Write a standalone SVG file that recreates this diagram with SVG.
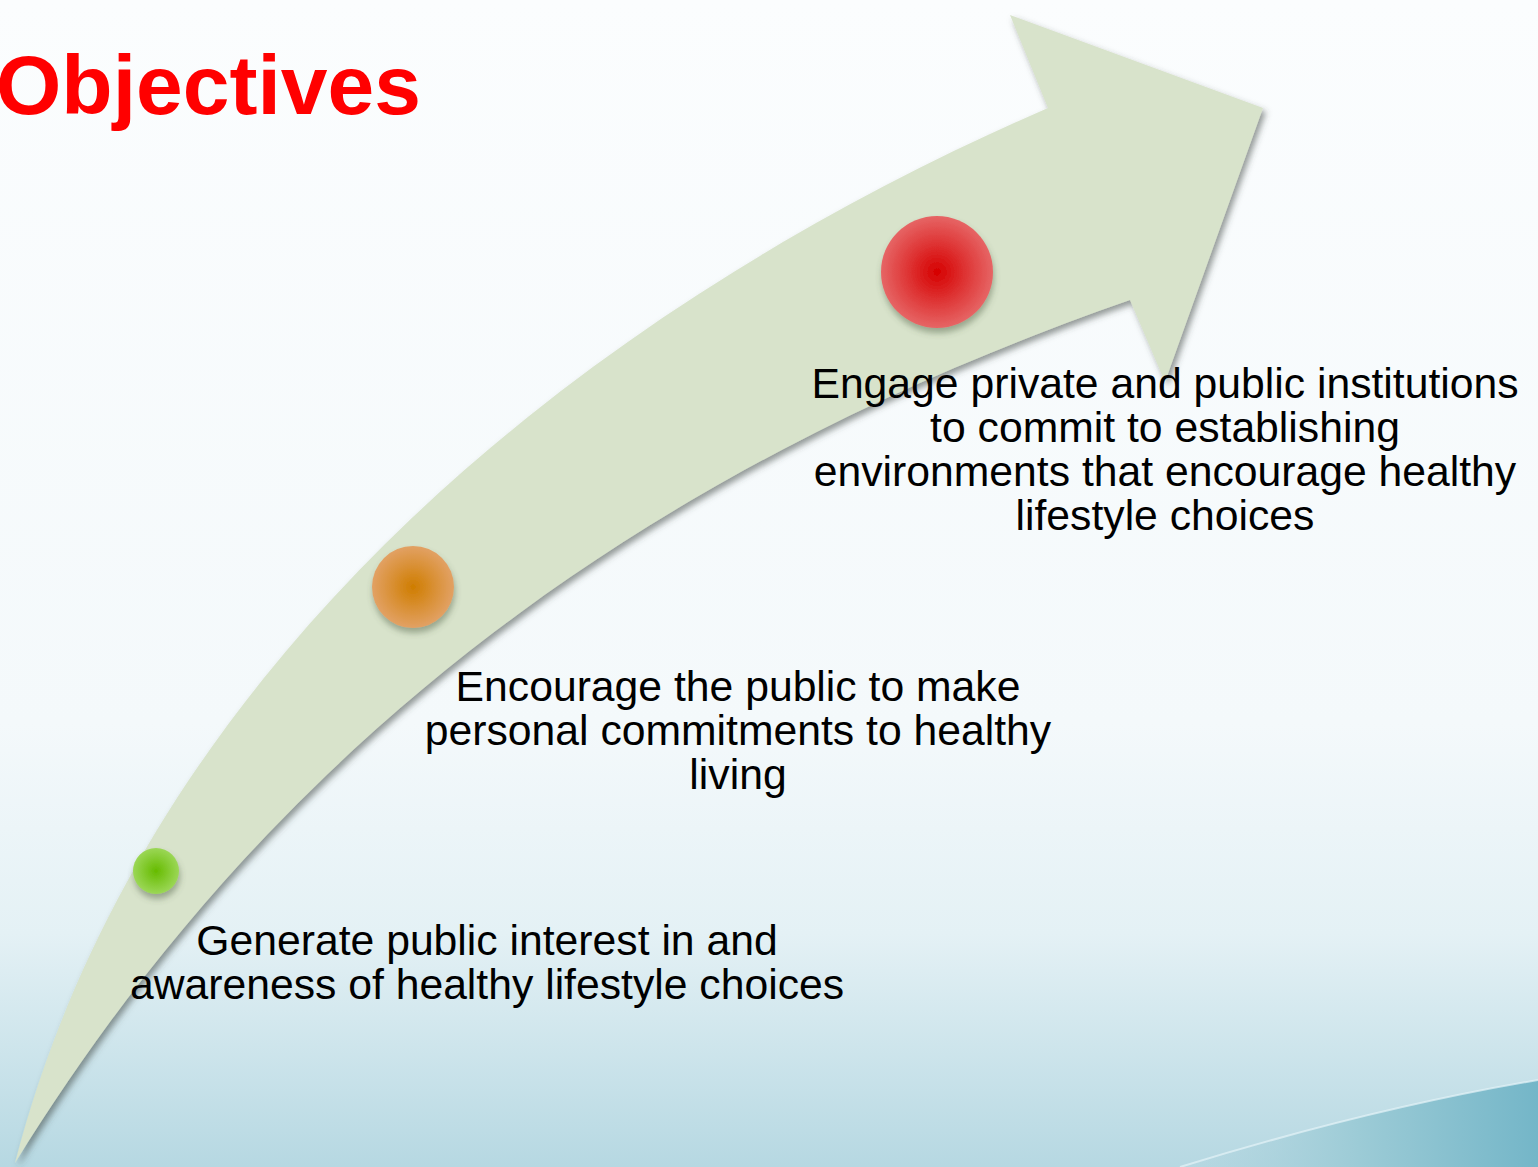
<svg xmlns="http://www.w3.org/2000/svg" width="1538" height="1167" viewBox="0 0 1538 1167">
  <defs>
    <linearGradient id="bg" x1="0" y1="0" x2="0" y2="1">
      <stop offset="0" stop-color="#fbfdfe"/>
      <stop offset="0.62" stop-color="#f4f9fb"/>
      <stop offset="0.8" stop-color="#e4f1f5"/>
      <stop offset="1" stop-color="#b6d8e2"/>
    </linearGradient>
    <linearGradient id="swoosh" x1="0" y1="0" x2="1" y2="0">
      <stop offset="0" stop-color="#a9d0db" stop-opacity="0"/>
      <stop offset="0.5" stop-color="#9ccbd6"/>
      <stop offset="1" stop-color="#74b6c8"/>
    </linearGradient>
    <radialGradient id="red" cx="0.5" cy="0.5" r="0.5">
      <stop offset="0" stop-color="#d60000"/>
      <stop offset="1" stop-color="#e66565"/>
    </radialGradient>
    <radialGradient id="orange" cx="0.5" cy="0.5" r="0.5">
      <stop offset="0" stop-color="#cf7d00"/>
      <stop offset="1" stop-color="#e2a164"/>
    </radialGradient>
    <radialGradient id="green" cx="0.5" cy="0.5" r="0.5">
      <stop offset="0" stop-color="#66bb00"/>
      <stop offset="1" stop-color="#9bd756"/>
    </radialGradient>
    <filter id="shadow" x="-10%" y="-10%" width="125%" height="125%">
      <feDropShadow dx="3" dy="4" stdDeviation="3" flood-color="#3c4a44" flood-opacity="0.55"/>
    </filter>
    <filter id="ballShadow" x="-30%" y="-30%" width="160%" height="170%">
      <feDropShadow dx="1" dy="5" stdDeviation="3" flood-color="#4a5a40" flood-opacity="0.45"/>
    </filter>
    <style>
      .label { font-family: "Liberation Sans", Arial, sans-serif; font-size: 42.7px; fill: #000; text-anchor: middle; }
      .title { font-family: "Liberation Sans", Arial, sans-serif; font-size: 84px; font-weight: bold; fill: #ff0000; }
    </style>
  </defs>

  <!-- slide background -->
  <rect x="0" y="0" width="1538" height="1167" fill="url(#bg)"/>
  <path d="M1180,1167 C1300,1130 1420,1100 1538,1080 L1538,1167 Z" fill="url(#swoosh)"/>
  <path d="M1180,1167 C1300,1130 1420,1100 1538,1080" fill="none" stroke="#e6f4f8" stroke-width="2" stroke-opacity="0.7"/>

  <text class="title" x="-4" y="114">Objectives</text>

  <!-- curved progress arrow -->
  <g id="arrow">
    <path filter="url(#shadow)" fill="#d8e3cb"
      d="M15,1163 C140,680 560,320 1048,108 L1010,15 L1263,108 L1165,382 L1130,300 C700,450 300,700 15,1163 Z"/>
  </g>

  <g id="step1">
    <circle cx="156" cy="871" r="23" fill="url(#green)" filter="url(#ballShadow)"/>
    <text class="label" x="487" y="955">Generate public interest in and</text>
    <text class="label" x="487" y="999">awareness of healthy lifestyle choices</text>
  </g>

  <g id="step2">
    <circle cx="413" cy="587" r="41" fill="url(#orange)" filter="url(#ballShadow)"/>
    <text class="label" x="738" y="701">Encourage the public to make</text>
    <text class="label" x="738" y="745">personal commitments to healthy</text>
    <text class="label" x="738" y="789">living</text>
  </g>

  <g id="step3">
    <circle cx="937" cy="272" r="56" fill="url(#red)" filter="url(#ballShadow)"/>
    <text class="label" x="1165" y="398">Engage private and public institutions</text>
    <text class="label" x="1165" y="442">to commit to establishing</text>
    <text class="label" x="1165" y="486">environments that encourage healthy</text>
    <text class="label" x="1165" y="530">lifestyle choices</text>
  </g>
</svg>
